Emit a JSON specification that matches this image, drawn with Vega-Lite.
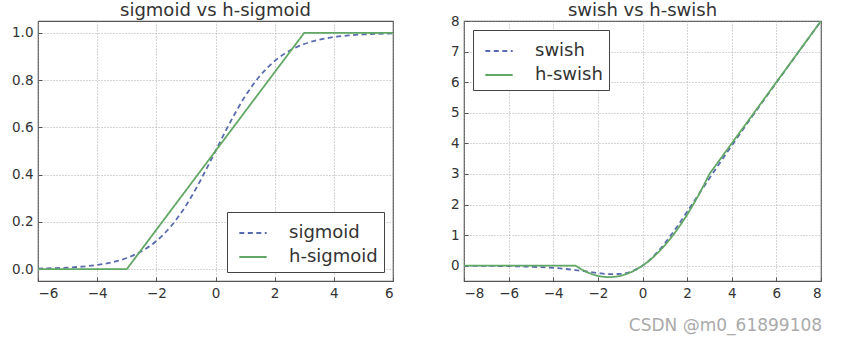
{
  "$schema": "https://vega.github.io/schema/vega-lite/v6.json",
  "background": "white",
  "padding": {"left": 10, "top": 1, "right": 12, "bottom": 5},
  "title": {"text": "CSDN @m0_61899108", "orient": "bottom", "anchor": "end", "fontSize": 17, "color": "#aaa", "fontWeight": "normal", "offset": 18, "font": "DejaVu Sans"},
  "config": {
    "font": "DejaVu Sans",
    "view": {"stroke": "#555", "strokeWidth": 1.2},
    "axis": {"grid": true, "gridDash": [1, 2], "gridColor": "#999", "gridOpacity": 0.8, "domain": false, "ticks": true, "tickSize": -4, "tickColor": "#555", "labelFontSize": 13.5, "labelColor": "#333", "labelPadding": 9, "title": null},
    "title": {"fontSize": 18, "fontWeight": "normal", "color": "#333", "offset": 1},
    "legend": {"strokeColor": "#444", "fillColor": "white", "padding": 6, "labelFontSize": 18, "labelColor": "#333", "symbolType": "stroke", "symbolSize": 750, "symbolStrokeWidth": 2, "symbolOffset": 5, "rowPadding": 0, "labelOffset": 21, "title": null, "offset": 9}
  },
  "spacing": 54,
  "datasets": {
    "sig": [
      {"x": -6, "y": 0.0025, "s": "sigmoid"}, {"x": -5.5, "y": 0.0041, "s": "sigmoid"}, {"x": -5, "y": 0.0067, "s": "sigmoid"}, {"x": -4.5, "y": 0.011, "s": "sigmoid"}, {"x": -4, "y": 0.018, "s": "sigmoid"}, {"x": -3.5, "y": 0.0293, "s": "sigmoid"}, {"x": -3, "y": 0.0474, "s": "sigmoid"}, {"x": -2.5, "y": 0.0759, "s": "sigmoid"}, {"x": -2, "y": 0.1192, "s": "sigmoid"}, {"x": -1.5, "y": 0.1824, "s": "sigmoid"}, {"x": -1, "y": 0.2689, "s": "sigmoid"}, {"x": -0.5, "y": 0.3775, "s": "sigmoid"}, {"x": 0, "y": 0.5, "s": "sigmoid"}, {"x": 0.5, "y": 0.6225, "s": "sigmoid"}, {"x": 1, "y": 0.7311, "s": "sigmoid"}, {"x": 1.5, "y": 0.8176, "s": "sigmoid"}, {"x": 2, "y": 0.8808, "s": "sigmoid"}, {"x": 2.5, "y": 0.9241, "s": "sigmoid"}, {"x": 3, "y": 0.9526, "s": "sigmoid"}, {"x": 3.5, "y": 0.9707, "s": "sigmoid"}, {"x": 4, "y": 0.982, "s": "sigmoid"}, {"x": 4.5, "y": 0.989, "s": "sigmoid"}, {"x": 5, "y": 0.9933, "s": "sigmoid"}, {"x": 5.5, "y": 0.9959, "s": "sigmoid"}, {"x": 6, "y": 0.9975, "s": "sigmoid"},
      {"x": -6, "y": 0, "s": "h-sigmoid"}, {"x": -3, "y": 0, "s": "h-sigmoid"}, {"x": 3, "y": 1, "s": "h-sigmoid"}, {"x": 6, "y": 1, "s": "h-sigmoid"}
    ],
    "sw": [
      {"x": -8, "y": -0.0027, "s": "swish"}, {"x": -7, "y": -0.0064, "s": "swish"}, {"x": -6, "y": -0.0148, "s": "swish"}, {"x": -5, "y": -0.0335, "s": "swish"}, {"x": -4, "y": -0.0719, "s": "swish"}, {"x": -3.5, "y": -0.1025, "s": "swish"}, {"x": -3, "y": -0.1423, "s": "swish"}, {"x": -2.5, "y": -0.1896, "s": "swish"}, {"x": -2, "y": -0.2384, "s": "swish"}, {"x": -1.5, "y": -0.2736, "s": "swish"}, {"x": -1, "y": -0.2689, "s": "swish"}, {"x": -0.5, "y": -0.1888, "s": "swish"}, {"x": 0, "y": 0, "s": "swish"}, {"x": 0.5, "y": 0.3112, "s": "swish"}, {"x": 1, "y": 0.7311, "s": "swish"}, {"x": 1.5, "y": 1.2264, "s": "swish"}, {"x": 2, "y": 1.7616, "s": "swish"}, {"x": 2.5, "y": 2.3104, "s": "swish"}, {"x": 3, "y": 2.8577, "s": "swish"}, {"x": 3.5, "y": 3.3975, "s": "swish"}, {"x": 4, "y": 3.9281, "s": "swish"}, {"x": 5, "y": 4.9665, "s": "swish"}, {"x": 6, "y": 5.9852, "s": "swish"}, {"x": 7, "y": 6.9936, "s": "swish"}, {"x": 8, "y": 7.9973, "s": "swish"},
      {"x": -8, "y": 0, "s": "h-swish"}, {"x": -3, "y": 0, "s": "h-swish"}, {"x": -2.75, "y": -0.1146, "s": "h-swish"}, {"x": -2.5, "y": -0.2083, "s": "h-swish"}, {"x": -2.25, "y": -0.2813, "s": "h-swish"}, {"x": -2, "y": -0.3333, "s": "h-swish"}, {"x": -1.75, "y": -0.3646, "s": "h-swish"}, {"x": -1.5, "y": -0.375, "s": "h-swish"}, {"x": -1.25, "y": -0.3646, "s": "h-swish"}, {"x": -1, "y": -0.3333, "s": "h-swish"}, {"x": -0.75, "y": -0.2813, "s": "h-swish"}, {"x": -0.5, "y": -0.2083, "s": "h-swish"}, {"x": -0.25, "y": -0.1146, "s": "h-swish"}, {"x": 0, "y": 0, "s": "h-swish"}, {"x": 0.25, "y": 0.1354, "s": "h-swish"}, {"x": 0.5, "y": 0.2917, "s": "h-swish"}, {"x": 0.75, "y": 0.4688, "s": "h-swish"}, {"x": 1, "y": 0.6667, "s": "h-swish"}, {"x": 1.25, "y": 0.8854, "s": "h-swish"}, {"x": 1.5, "y": 1.125, "s": "h-swish"}, {"x": 1.75, "y": 1.3854, "s": "h-swish"}, {"x": 2, "y": 1.6667, "s": "h-swish"}, {"x": 2.25, "y": 1.9688, "s": "h-swish"}, {"x": 2.5, "y": 2.2917, "s": "h-swish"}, {"x": 2.75, "y": 2.6354, "s": "h-swish"}, {"x": 3, "y": 3, "s": "h-swish"}, {"x": 8, "y": 8, "s": "h-swish"}
    ]
  },
  "hconcat": [
    {
      "title": "sigmoid vs h-sigmoid",
      "width": 355,
      "height": 260,
      "data": {"name": "sig"},
      "encoding": {
        "x": {"field": "x", "type": "quantitative", "scale": {"domain": [-6, 6], "nice": false, "zero": false}, "axis": {"values": [-6, -4, -2, 0, 2, 4, 6], "format": "d"}},
        "y": {"field": "y", "type": "quantitative", "scale": {"domain": [-0.05, 1.05], "nice": false}, "axis": {"values": [0, 0.2, 0.4, 0.6, 0.8, 1.0], "format": ".1f"}},
        "color": {"field": "s", "type": "nominal", "scale": {"domain": ["sigmoid", "h-sigmoid"], "range": ["#5a6cb0", "#62a865"]}, "legend": {"orient": "bottom-right"}},
        "strokeDash": {"field": "s", "type": "nominal", "scale": {"domain": ["sigmoid", "h-sigmoid"], "range": [[5, 3.5], [1, 0]]}, "legend": {"orient": "bottom-right"}}
      },
      "layer": [
        {"transform": [{"filter": "datum.s == 'sigmoid'"}], "mark": {"type": "line", "strokeWidth": 1.8, "interpolate": "monotone", "clip": true}},
        {"transform": [{"filter": "datum.s == 'h-sigmoid'"}], "mark": {"type": "line", "strokeWidth": 1.8, "interpolate": "linear", "clip": true}}
      ]
    },
    {
      "title": {"text": "swish vs h-swish", "offset": -6},
      "width": 357,
      "height": 260,
      "data": {"name": "sw"},
      "encoding": {
        "x": {"field": "x", "type": "quantitative", "scale": {"domain": [-8, 8], "nice": false, "zero": false}, "axis": {"values": [-8, -6, -4, -2, 0, 2, 4, 6, 8], "format": "d"}},
        "y": {"field": "y", "type": "quantitative", "scale": {"domain": [-0.5, 8], "nice": false}, "axis": {"values": [0, 1, 2, 3, 4, 5, 6, 7, 8], "format": "d"}},
        "color": {"field": "s", "type": "nominal", "scale": {"domain": ["swish", "h-swish"], "range": ["#5a6cb0", "#62a865"]}, "legend": {"orient": "top-left"}},
        "strokeDash": {"field": "s", "type": "nominal", "scale": {"domain": ["swish", "h-swish"], "range": [[5, 3.5], [1, 0]]}, "legend": {"orient": "top-left"}}
      },
      "layer": [
        {"transform": [{"filter": "datum.s == 'swish'"}], "mark": {"type": "line", "strokeWidth": 1.8, "interpolate": "monotone", "clip": true}},
        {"transform": [{"filter": "datum.s == 'h-swish'"}], "mark": {"type": "line", "strokeWidth": 1.8, "interpolate": "linear", "clip": true}}
      ]
    }
  ],
  "resolve": {"scale": {"color": "independent", "strokeDash": "independent"}, "legend": {"color": "independent", "strokeDash": "independent"}}
}
